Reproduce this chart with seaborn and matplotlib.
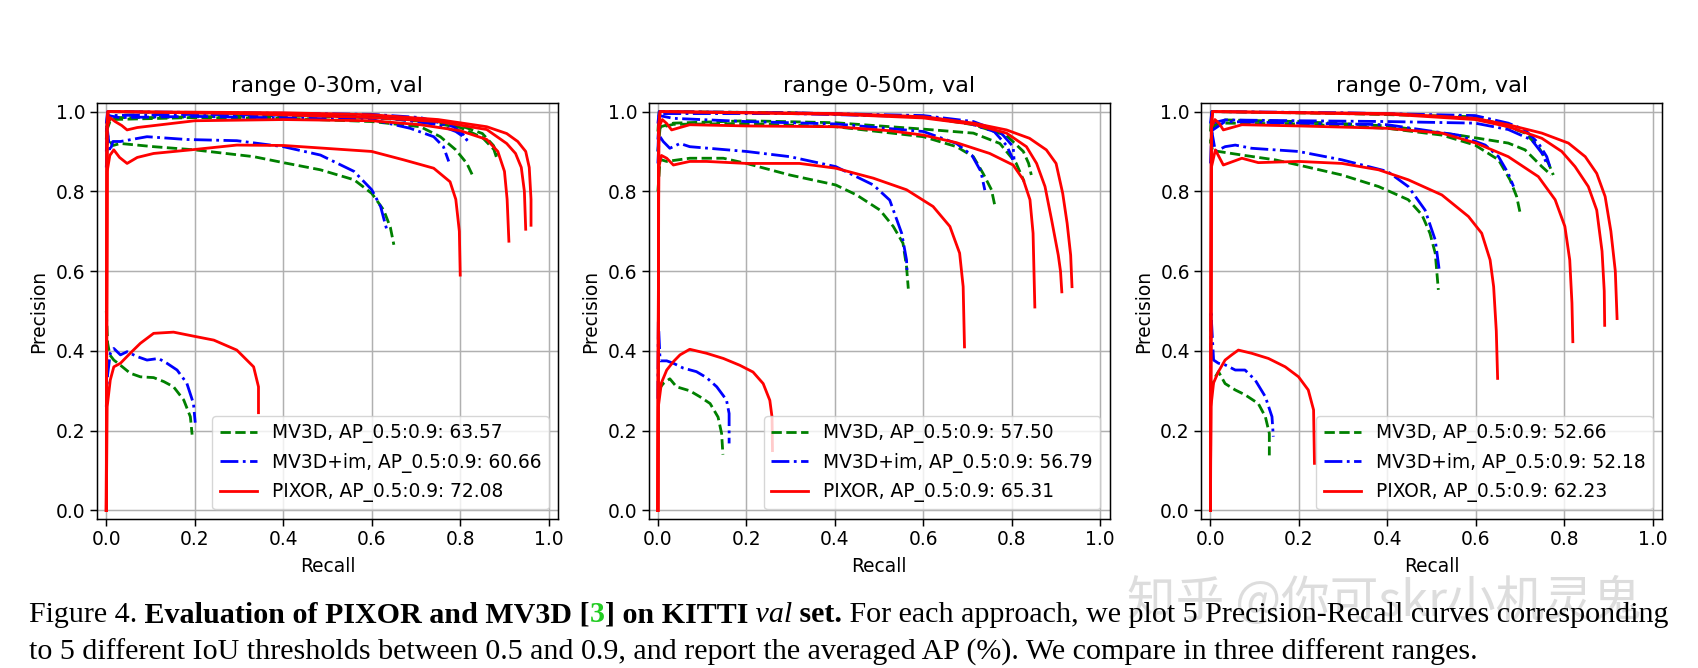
import matplotlib
matplotlib.use("Agg")
import matplotlib.pyplot as plt
import numpy as np
import pandas as pd
import seaborn as sns

# ---- data: one list of (recall, precision) per IoU 0.5..0.9 ----
iou_levels = [0.5, 0.6, 0.7, 0.8, 0.9]
range_titles = ["range 0-30m, val", "range 0-50m, val", "range 0-70m, val"]
ap_mv3d = [63.57, 57.50, 52.66]
ap_mv3d_im = [60.66, 56.79, 52.18]
ap_pixor = [72.08, 65.31, 62.23]

mv3d_30 = [
    [(0, 0.93), (0.003, 1.0), (0.3, 0.995), (0.6, 0.99), (0.72, 0.98), (0.8, 0.965), (0.85, 0.945), (0.875, 0.915), (0.885, 0.89)],
    [(0, 0.96), (0.01, 0.985), (0.1, 0.985), (0.4, 0.99), (0.6, 0.985), (0.72, 0.975), (0.8, 0.96), (0.85, 0.935), (0.876, 0.905), (0.882, 0.885)],
    [(0, 0.95), (0.01, 0.98), (0.2, 0.985), (0.4, 0.983), (0.6, 0.975), (0.71, 0.962), (0.755, 0.937), (0.79, 0.904), (0.815, 0.87), (0.83, 0.835)],
    [(0, 0.96), (0.005, 0.93), (0.015, 0.915), (0.032, 0.92), (0.107, 0.912), (0.2, 0.904), (0.27, 0.895), (0.333, 0.887), (0.4, 0.872), (0.484, 0.854), (0.56, 0.829), (0.6, 0.795), (0.627, 0.753), (0.642, 0.71), (0.65, 0.666)],
    [(0, 0.5), (0.003, 0.42), (0.008, 0.39), (0.017, 0.377), (0.032, 0.364), (0.054, 0.344), (0.077, 0.335), (0.107, 0.333), (0.13, 0.323), (0.152, 0.31), (0.175, 0.277), (0.19, 0.235), (0.194, 0.19)],
]
mv3d_im_30 = [
    [(0, 0.97), (0.003, 1.0), (0.3, 0.997), (0.6, 0.993), (0.71, 0.985), (0.785, 0.962), (0.805, 0.945), (0.815, 0.93)],
    [(0, 0.95), (0.005, 0.99), (0.2, 0.993), (0.5, 0.99), (0.65, 0.982), (0.75, 0.967), (0.79, 0.95), (0.81, 0.935), (0.818, 0.925)],
    [(0, 0.9), (0.004, 0.99), (0.03, 0.985), (0.2, 0.988), (0.6, 0.98), (0.687, 0.958), (0.74, 0.937), (0.762, 0.912), (0.774, 0.875)],
    [(0, 0.86), (0.003, 0.95), (0.008, 0.9), (0.015, 0.925), (0.032, 0.925), (0.092, 0.937), (0.182, 0.93), (0.295, 0.927), (0.4, 0.912), (0.484, 0.891), (0.56, 0.85), (0.6, 0.804), (0.62, 0.762), (0.63, 0.72), (0.635, 0.70)],
    [(0, 0.26), (0.003, 0.34), (0.009, 0.394), (0.017, 0.406), (0.032, 0.39), (0.047, 0.398), (0.069, 0.386), (0.092, 0.377), (0.118, 0.381), (0.137, 0.369), (0.16, 0.352), (0.182, 0.319), (0.197, 0.268), (0.201, 0.22)],
]
pixor_30 = [
    [(0, 0), (0.001, 0.95), (0.003, 1.0), (0.4, 0.997), (0.6, 0.992), (0.75, 0.98), (0.86, 0.962), (0.905, 0.945), (0.93, 0.925), (0.948, 0.9), (0.956, 0.86), (0.96, 0.78), (0.96, 0.715)],
    [(0, 0), (0.002, 0.97), (0.005, 1.0), (0.3, 0.995), (0.6, 0.985), (0.75, 0.975), (0.86, 0.955), (0.905, 0.92), (0.925, 0.895), (0.938, 0.86), (0.945, 0.8), (0.948, 0.705)],
    [(0, 0), (0.002, 0.96), (0.008, 0.985), (0.02, 0.975), (0.035, 0.965), (0.047, 0.954), (0.07, 0.96), (0.2, 0.977), (0.4, 0.98), (0.6, 0.977), (0.71, 0.967), (0.8, 0.952), (0.86, 0.93), (0.885, 0.9), (0.9, 0.85), (0.906, 0.78), (0.91, 0.675)],
    [(0, 0), (0.002, 0.85), (0.008, 0.89), (0.017, 0.904), (0.03, 0.885), (0.047, 0.87), (0.07, 0.885), (0.107, 0.895), (0.2, 0.905), (0.295, 0.916), (0.4, 0.915), (0.6, 0.9), (0.672, 0.879), (0.74, 0.858), (0.777, 0.824), (0.79, 0.78), (0.798, 0.7), (0.8, 0.59)],
    [(0, 0), (0.002, 0.26), (0.009, 0.327), (0.017, 0.36), (0.032, 0.369), (0.054, 0.394), (0.077, 0.419), (0.107, 0.444), (0.152, 0.447), (0.197, 0.437), (0.243, 0.427), (0.295, 0.402), (0.333, 0.36), (0.344, 0.31), (0.344, 0.245)],
]

mv3d_50 = [
    [(0, 0.95), (0.003, 1.0), (0.3, 0.997), (0.6, 0.987), (0.713, 0.967), (0.788, 0.94), (0.826, 0.9), (0.838, 0.87), (0.844, 0.841)],
    [(0, 0.96), (0.035, 0.971), (0.2, 0.977), (0.402, 0.972), (0.6, 0.956), (0.713, 0.946), (0.773, 0.92), (0.81, 0.87), (0.828, 0.824)],
    [(0, 0.9), (0.005, 0.96), (0.035, 0.968), (0.2, 0.97), (0.402, 0.962), (0.6, 0.937), (0.675, 0.912), (0.713, 0.887), (0.735, 0.845), (0.754, 0.804), (0.762, 0.762)],
    [(0, 0.8), (0.005, 0.88), (0.02, 0.875), (0.072, 0.883), (0.148, 0.883), (0.2, 0.87), (0.298, 0.841), (0.402, 0.816), (0.449, 0.791), (0.502, 0.753), (0.532, 0.712), (0.554, 0.67), (0.562, 0.611), (0.566, 0.556)],
    [(0, 0.3), (0.012, 0.318), (0.027, 0.33), (0.042, 0.31), (0.072, 0.3), (0.095, 0.285), (0.118, 0.268), (0.136, 0.234), (0.144, 0.193), (0.147, 0.14)],
]
mv3d_im_50 = [
    [(0, 0.97), (0.003, 1.0), (0.3, 0.997), (0.6, 0.99), (0.713, 0.975), (0.773, 0.95), (0.803, 0.912), (0.805, 0.88)],
    [(0, 0.93), (0.004, 0.995), (0.3, 0.995), (0.6, 0.987), (0.7, 0.972), (0.76, 0.95), (0.788, 0.915), (0.8, 0.887), (0.802, 0.879)],
    [(0, 0.9), (0.003, 0.99), (0.035, 0.983), (0.2, 0.975), (0.402, 0.969), (0.6, 0.95), (0.675, 0.92), (0.71, 0.89), (0.73, 0.85), (0.739, 0.803)],
    [(0, 0.87), (0.003, 0.94), (0.012, 0.925), (0.027, 0.908), (0.05, 0.92), (0.072, 0.912), (0.2, 0.9), (0.298, 0.887), (0.402, 0.862), (0.487, 0.816), (0.524, 0.778), (0.551, 0.695), (0.562, 0.628), (0.563, 0.603)],
    [(0, 0.28), (0.001, 0.476), (0.005, 0.375), (0.02, 0.375), (0.035, 0.369), (0.057, 0.357), (0.087, 0.348), (0.11, 0.333), (0.133, 0.31), (0.155, 0.277), (0.161, 0.243), (0.161, 0.168)],
]
pixor_50 = [
    [(0, 0), (0.002, 0.97), (0.005, 1.0), (0.41, 0.995), (0.6, 0.987), (0.713, 0.971), (0.788, 0.954), (0.84, 0.933), (0.878, 0.904), (0.9, 0.87), (0.915, 0.795), (0.925, 0.72), (0.933, 0.64), (0.936, 0.561)],
    [(0, 0), (0.002, 0.96), (0.005, 1.0), (0.41, 0.993), (0.6, 0.984), (0.713, 0.968), (0.788, 0.946), (0.833, 0.912), (0.856, 0.87), (0.875, 0.812), (0.89, 0.728), (0.905, 0.64), (0.91, 0.6), (0.913, 0.548)],
    [(0, 0), (0.002, 0.96), (0.01, 0.98), (0.02, 0.97), (0.031, 0.954), (0.072, 0.967), (0.2, 0.964), (0.402, 0.962), (0.524, 0.952), (0.6, 0.941), (0.675, 0.922), (0.75, 0.895), (0.803, 0.866), (0.826, 0.829), (0.841, 0.779), (0.848, 0.695), (0.852, 0.51)],
    [(0, 0), (0.002, 0.86), (0.008, 0.89), (0.02, 0.883), (0.035, 0.866), (0.072, 0.875), (0.11, 0.875), (0.2, 0.87), (0.32, 0.87), (0.402, 0.858), (0.487, 0.833), (0.562, 0.804), (0.622, 0.762), (0.66, 0.712), (0.682, 0.645), (0.69, 0.561), (0.693, 0.41)],
    [(0, 0), (0.001, 0.26), (0.008, 0.32), (0.02, 0.352), (0.035, 0.373), (0.05, 0.39), (0.072, 0.404), (0.11, 0.394), (0.148, 0.381), (0.185, 0.364), (0.215, 0.347), (0.238, 0.318), (0.253, 0.276), (0.258, 0.234), (0.259, 0.15)],
]

mv3d_70 = [
    [(0, 0.95), (0.003, 1.0), (0.3, 0.995), (0.598, 0.987), (0.673, 0.962), (0.711, 0.946), (0.741, 0.912), (0.764, 0.87), (0.775, 0.841)],
    [(0, 0.96), (0.033, 0.979), (0.199, 0.975), (0.4, 0.964), (0.56, 0.941), (0.673, 0.921), (0.711, 0.904), (0.749, 0.862), (0.77, 0.841)],
    [(0, 0.92), (0.005, 0.96), (0.033, 0.971), (0.199, 0.969), (0.4, 0.958), (0.523, 0.941), (0.598, 0.916), (0.651, 0.879), (0.677, 0.829), (0.692, 0.787), (0.7, 0.745)],
    [(0, 0.93), (0.005, 0.9), (0.018, 0.9), (0.071, 0.891), (0.146, 0.879), (0.199, 0.866), (0.297, 0.841), (0.38, 0.812), (0.447, 0.779), (0.478, 0.741), (0.496, 0.695), (0.508, 0.645), (0.515, 0.553)],
    [(0, 0.3), (0.011, 0.335), (0.018, 0.348), (0.033, 0.318), (0.056, 0.302), (0.078, 0.29), (0.108, 0.268), (0.124, 0.235), (0.133, 0.193), (0.133, 0.138)],
]
mv3d_im_70 = [
    [(0, 0.97), (0.003, 1.0), (0.3, 0.997), (0.598, 0.99), (0.673, 0.971), (0.711, 0.954), (0.741, 0.921), (0.76, 0.887), (0.767, 0.862)],
    [(0, 0.97), (0.033, 0.979), (0.199, 0.977), (0.4, 0.975), (0.598, 0.971), (0.673, 0.955), (0.726, 0.929), (0.749, 0.896), (0.76, 0.87)],
    [(0, 0.95), (0.033, 0.975), (0.199, 0.971), (0.4, 0.967), (0.56, 0.941), (0.621, 0.916), (0.651, 0.887), (0.673, 0.845), (0.685, 0.812)],
    [(0, 0.87), (0.003, 0.95), (0.011, 0.9), (0.033, 0.912), (0.056, 0.916), (0.093, 0.908), (0.199, 0.9), (0.297, 0.879), (0.4, 0.85), (0.447, 0.812), (0.485, 0.753), (0.508, 0.678), (0.517, 0.603)],
    [(0, 0.3), (0.001, 0.5), (0.007, 0.377), (0.018, 0.369), (0.033, 0.365), (0.056, 0.352), (0.078, 0.352), (0.101, 0.327), (0.124, 0.285), (0.139, 0.235), (0.142, 0.185)],
]
pixor_70 = [
    [(0, 0), (0.002, 0.97), (0.005, 1.0), (0.41, 0.995), (0.598, 0.983), (0.673, 0.967), (0.749, 0.946), (0.809, 0.921), (0.847, 0.887), (0.873, 0.845), (0.892, 0.787), (0.905, 0.7), (0.915, 0.6), (0.919, 0.481)],
    [(0, 0), (0.002, 0.96), (0.005, 1.0), (0.41, 0.993), (0.598, 0.98), (0.673, 0.962), (0.749, 0.933), (0.794, 0.9), (0.824, 0.862), (0.854, 0.812), (0.873, 0.753), (0.885, 0.65), (0.89, 0.55), (0.891, 0.464)],
    [(0, 0), (0.002, 0.96), (0.01, 0.98), (0.02, 0.97), (0.029, 0.954), (0.071, 0.967), (0.2, 0.964), (0.4, 0.958), (0.523, 0.946), (0.6, 0.921), (0.673, 0.887), (0.741, 0.837), (0.779, 0.779), (0.801, 0.712), (0.812, 0.628), (0.817, 0.52), (0.819, 0.423)],
    [(0, 0), (0.002, 0.86), (0.011, 0.904), (0.029, 0.866), (0.071, 0.883), (0.108, 0.872), (0.199, 0.875), (0.297, 0.87), (0.38, 0.854), (0.447, 0.829), (0.523, 0.791), (0.583, 0.737), (0.613, 0.695), (0.632, 0.628), (0.64, 0.561), (0.646, 0.45), (0.649, 0.331)],
    [(0, 0), (0.001, 0.26), (0.007, 0.32), (0.018, 0.348), (0.033, 0.377), (0.048, 0.39), (0.063, 0.402), (0.093, 0.394), (0.131, 0.381), (0.169, 0.36), (0.199, 0.335), (0.221, 0.302), (0.233, 0.252), (0.235, 0.118)],
]

panels = [
    (mv3d_30, mv3d_im_30, pixor_30),
    (mv3d_50, mv3d_im_50, pixor_50),
    (mv3d_70, mv3d_im_70, pixor_70),
]

# ---- style: matplotlib default look, scaled up a bit ----
s = 1.34
plt.rcParams.update({
    "font.family": ["DejaVu Sans"],
    "font.size": 10 * s,
    "axes.titlesize": 12 * s,
    "axes.labelsize": 10 * s,
    "xtick.labelsize": 10 * s,
    "ytick.labelsize": 10 * s,
    "legend.fontsize": 10 * s,
    "axes.linewidth": 0.8 * s,
    "xtick.major.size": 3.5 * s,
    "ytick.major.size": 3.5 * s,
    "xtick.major.width": 0.8 * s,
    "ytick.major.width": 0.8 * s,
    "grid.linewidth": 0.8 * s,
    "grid.color": "#b0b0b0",
    "axes.titlepad": 6 * s,
    "axes.labelpad": 4 * s,
})

fig = plt.figure(figsize=(16.99, 6.68), dpi=100)
lefts = [97 / 1699, 648.6 / 1699, 1201.2 / 1699]
bottom, width, height = 1 - 518.8 / 668, 461 / 1699, 415.6 / 668

for i, (g, b, r) in enumerate(panels):
    labels = [f"MV3D, AP_0.5:0.9: {ap_mv3d[i]:.2f}",
              f"MV3D+im, AP_0.5:0.9: {ap_mv3d_im[i]:.2f}",
              f"PIXOR, AP_0.5:0.9: {ap_pixor[i]:.2f}"]
    rows = []
    for lab, curves in zip(labels, (g, b, r)):
        for iou, pts in zip(iou_levels, curves):
            for rc, pr in pts:
                rows.append({"Recall": rc, "Precision": pr, "method": lab,
                             "curve": f"{lab}-{iou}"})
    df = pd.DataFrame(rows)

    ax = fig.add_axes([lefts[i], bottom, width, height])
    sns.lineplot(data=df, x="Recall", y="Precision", hue="method", style="method",
                 units="curve", estimator=None, sort=False, ax=ax,
                 palette=dict(zip(labels, ["green", "blue", "red"])),
                 dashes=dict(zip(labels, [(3.7, 1.6), (6.4, 1.6, 1.0, 1.6), ""])),
                 linewidth=1.5 * s)
    ax.set_xlim(-0.021, 1.021)
    ax.set_ylim(-0.021, 1.021)
    ax.set_xticks(np.arange(0, 1.01, 0.2))
    ax.set_yticks(np.arange(0, 1.01, 0.2))
    ax.grid(True)
    ax.set_title(range_titles[i])
    leg = ax.get_legend()
    handles = leg.legend_handles
    texts = [t.get_text() for t in leg.get_texts()]
    ax.legend(handles, texts, loc="lower right")

# ---- caption below the plots ----
renderer = fig.canvas.get_renderer()
W = fig.get_figwidth() * fig.dpi
cap_size = 21.6
serif = ["Liberation Serif", "DejaVu Serif"]


def caption_line(pieces, x0, y):
    x = x0
    for text, weight, style, color in pieces:
        t = fig.text(x / W, y, text, fontsize=cap_size, family=serif,
                     weight=weight, style=style, color=color, va="baseline")
        x = t.get_window_extent(renderer).x1


# faint site watermark (drawn first so the caption sits on top)
fig.text(1127 / W, 1 - 602 / 668, "知乎 @你可skr小机灵鬼", fontsize=35,
         family=["Noto Sans CJK SC", "DejaVu Sans"], color="#cfcfcf", alpha=0.7,
         va="center")

caption_line([
    ("Figure 4.", "normal", "normal", "black"),
    (" Evaluation of PIXOR and MV3D [", "bold", "normal", "black"),
    ("3", "bold", "normal", "#22cc22"),
    ("] on KITTI", "bold", "normal", "black"),
    (" val", "normal", "italic", "black"),
    (" set.", "bold", "normal", "black"),
    (" For each approach, we plot 5 Precision-Recall curves corresponding", "normal", "normal", "black"),
], 29, 1 - 622 / 668)
caption_line([
    ("to 5 different IoU thresholds between 0.5 and 0.9, and report the averaged AP (%). "
     "We compare in three different ranges.", "normal", "normal", "black"),
], 29, 1 - 660 / 668)

fig.savefig("out.png", dpi=100)
